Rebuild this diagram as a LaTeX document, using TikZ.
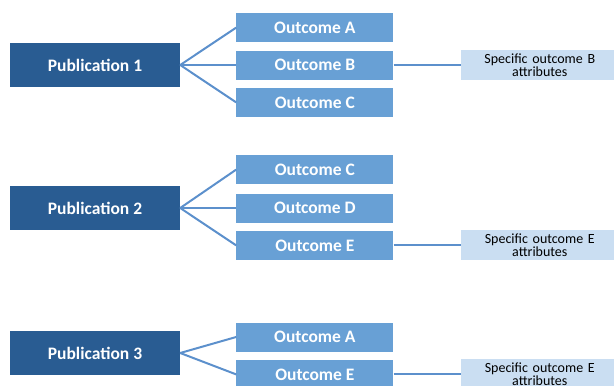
\documentclass[tikz,border=0pt]{standalone}
\usepackage{fontspec}
\setmainfont{Carlito}
\usepackage{xcolor}
\usepackage{tikz}
\usetikzlibrary{positioning}
\usetikzlibrary{calc}

\definecolor{pubblue}{RGB}{41,92,146}
\definecolor{outblue}{RGB}{104,160,213}
\definecolor{specblue}{RGB}{202,222,242}
\definecolor{lineblue}{RGB}{92,144,204}

\begin{document}
\begin{tikzpicture}[x=1pt, y=1pt, node distance=8pt and 56pt,
  pub/.style={fill=pubblue, draw=none, minimum width=170pt, minimum height=44pt, text=white, font=\fontsize{17.5}{20}\selectfont\bfseries},
  outcome/.style={fill=outblue, draw=none, minimum width=157pt, minimum height=29pt, text=white, font=\fontsize{17.5}{20}\selectfont\bfseries},
  spec/.style={fill=specblue, draw=none, minimum width=158pt, minimum height=30pt, text width=150pt, align=center, font=\fontsize{14}{13.5}\selectfont},
  link/.style={draw=lineblue, line width=2pt}]
\clip (0,0) rectangle (614,-386);
\useasboundingbox (0,0) rectangle (614,-386);

\node[pub] (p1) at (95,-65) {Publication 1};
\node[outcome, right=of p1] (p1b) {Outcome B};
\node[outcome, above=of p1b] (p1a) {Outcome A};
\node[outcome, below=of p1b] (p1c) {Outcome C};
\node[spec, right=67pt of p1b] (s1) {Specific outcome B\\attributes};

\node[pub] (p2) at (95,-208) {Publication 2};
\node[outcome, right=of p2] (p2d) {Outcome D};
\node[outcome, above=9pt of p2d] (p2c) {Outcome C};
\node[outcome, below=8pt of p2d] (p2e) {Outcome E};
\node[spec, right=67pt of p2e] (s2) {Specific outcome E\\attributes};

\node[pub] (p3) at (95,-353) {Publication 3};
\node[outcome, right=of p3, yshift=16pt] (p3a) {Outcome A};
\node[outcome, below=of p3a] (p3e) {Outcome E};
\node[spec, right=67pt of p3e] (s3) {Specific outcome E\\attributes};

\draw[link] (p1.east) -- (p1a.west);
\draw[link] (p1.east) -- (p1b.west);
\draw[link] (p1.east) -- (p1c.west);
\draw[link] (p1b.east) -- (s1.west);

\draw[link] (p2.east) -- (p2c.west);
\draw[link] (p2.east) -- (p2d.west);
\draw[link] (p2.east) -- (p2e.west);
\draw[link] (p2e.east) -- (s2.west);

\draw[link] (p3.east) -- (p3a.west);
\draw[link] (p3.east) -- (p3e.west);
\draw[link] (p3e.east) -- (s3.west);
\end{tikzpicture}
\end{document}
